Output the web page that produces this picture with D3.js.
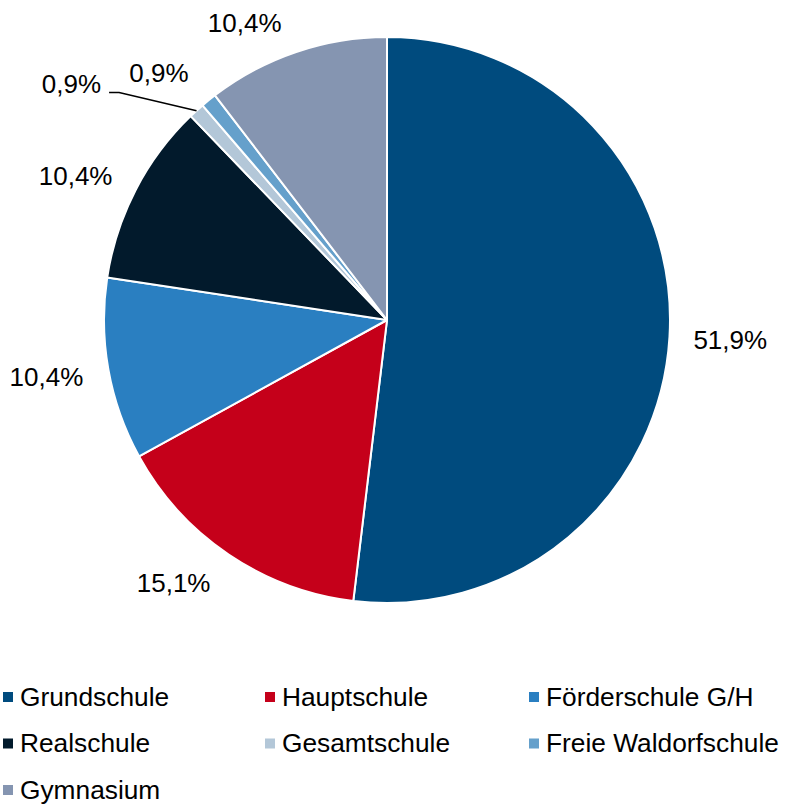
<!DOCTYPE html>
<html>
<head>
<meta charset="utf-8">
<script src="https://cdn.jsdelivr.net/npm/d3@7"></script>
<style>
  body { margin: 0; background: #fff; }
  svg text { font-family: "Liberation Sans", Arial, sans-serif; fill: #000; }
</style>
</head>
<body>
<svg id="svg_1" width="785" height="804"></svg>
<script>
var categories = ["Grundschule", "Hauptschule", "Förderschule G/H", "Realschule", "Gesamtschule", "Freie Waldorfschule", "Gymnasium"];
var shares = [51.9, 15.1, 10.4, 10.4, 0.9, 0.9, 10.4];
var colors = ["#004b7e", "#c5001a", "#2a7fc1", "#021a2c", "#b3c7d8", "#65a0cb", "#8595b1"];
// hand nudges so the labels sit where Excel put them
var labelNudge = [[0, 1], [-21, 0], [-2, 2], [-6, 2], [-89, -1], [-16, -1], [-32, 3]];

var svg = d3.select("svg#svg_1"),
    cx = 387, cy = 320, radius = 283,
    fontSize = 26;

var data = categories.map(function(c, i) { return {name: c, value: shares[i], color: colors[i], idx: i}; });

var pie = d3.pie().sort(null).value(function(d) { return d.value; });
var arc = d3.arc().innerRadius(0).outerRadius(radius);
var arcs = pie(data);

var g = svg.append("g").attr("transform", "translate(" + cx + "," + cy + ")");

g.selectAll("path")
  .data(arcs)
  .enter().append("path")
    .attr("d", arc)
    .attr("fill", function(d) { return d.data.color; })
    .attr("stroke", "#fff")
    .attr("stroke-width", 2)
    .attr("stroke-linejoin", "round");

var fmt = function(v) { return d3.format(".1f")(v).replace(".", ",") + "%"; };

var labels = g.selectAll("text.lbl")
  .data(arcs)
  .enter().append("text")
    .attr("class", "lbl")
    .attr("font-size", fontSize)
    .attr("text-anchor", "middle")
    .text(function(d) { return fmt(d.data.value); })
    .each(function(d) {
      var a = (d.startAngle + d.endAngle) / 2,
          bb = this.getBBox(),
          R = radius + 24,
          px = R * Math.sin(a), py = -R * Math.cos(a);
      var x = px + Math.sin(a) * bb.width / 2 + labelNudge[d.index][0],
          y = py - Math.cos(a) * 10 + labelNudge[d.index][1];
      d.lx = x; d.ly = y; d.lw = bb.width;
      d3.select(this).attr("x", x).attr("y", y + 24.6 * 0.358);
    });

// leader line for the narrow Gesamtschule slice
var gs = arcs[4];
var ga = (gs.startAngle + gs.endAngle) / 2;
g.append("polyline")
  .attr("points", [
      [gs.lx + gs.lw / 2 + 8, gs.ly + 8],
      [gs.lx + gs.lw / 2 + 18, gs.ly + 8],
      [radius * Math.sin(ga), -radius * Math.cos(ga)]
    ].map(function(p) { return p.join(","); }).join(" "))
  .attr("fill", "none")
  .attr("stroke", "#000")
  .attr("stroke-width", 1.5);

// legend, three columns
var colX = [3, 265, 529], rowY = [697, 743.5, 790];
var legend = svg.append("g")
  .selectAll("g")
  .data(data)
  .enter().append("g")
    .attr("transform", function(d, i) { return "translate(" + colX[i % 3] + "," + rowY[Math.floor(i / 3)] + ")"; });

legend.append("rect")
    .attr("x", 0)
    .attr("y", -5)
    .attr("width", 10)
    .attr("height", 10)
    .attr("fill", function(d) { return d.color; });

legend.append("text")
    .attr("x", 17)
    .attr("y", 24.6 * 0.358)
    .attr("font-size", 26.3)
    .text(function(d) { return d.name; });
</script>
</body>
</html>
